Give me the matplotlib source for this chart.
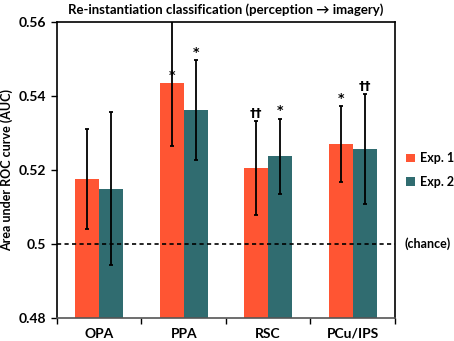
import numpy as np
import matplotlib
matplotlib.use("Agg")
import matplotlib.pyplot as plt

plt.rcParams["font.family"] = ["Lato", "DejaVu Sans"]
plt.rcParams["font.weight"] = "bold"
plt.rcParams["axes.titleweight"] = "bold"
plt.rcParams["axes.labelweight"] = "bold"

regions = ["OPA", "PPA", "RSC", "PCu/IPS"]
exp1 = [0.5175, 0.5435, 0.5205, 0.527]
exp2 = [0.515, 0.5363, 0.5237, 0.5257]
err1 = [0.0135, 0.0170, 0.0127, 0.0103]
err2 = [0.0207, 0.0135, 0.0102, 0.0148]
sig1 = ["", "*", "††", "*"]
sig2 = ["", "*", "*", "††"]

col1 = "#FF5533"
col2 = "#306C70"
ymax = 0.56

fig = plt.figure(figsize=(4.54, 3.41), dpi=100)
ax = fig.add_axes([0.1256, 0.0674, 0.744, 0.868])

x = np.arange(len(regions))
w = 0.284
ax.bar(x - w / 2, exp1, w, color=col1, label="Exp. 1", zorder=2)
ax.bar(x + w / 2, exp2, w, color=col2, label="Exp. 2", zorder=2)
ax.errorbar(x - w / 2, exp1, yerr=err1, fmt="none", ecolor="black",
            elinewidth=1.3, capsize=1.5, capthick=1.3, zorder=3)
ax.errorbar(x + w / 2, exp2, yerr=err2, fmt="none", ecolor="black",
            elinewidth=1.3, capsize=1.5, capthick=1.3, zorder=3)


def mark(xp, val, err, s):
    if not s:
        return
    top = val + err
    if top > ymax:
        top = val  # error bar runs off the axis, so put the mark on the bar
    ax.text(xp, top + 0.0003, s, ha="center", va="bottom", fontsize=9,
            fontweight="bold", family="DejaVu Sans")


for i in range(len(regions)):
    mark(x[i] - w / 2, exp1[i], err1[i], sig1[i])
    mark(x[i] + w / 2, exp2[i], err2[i], sig2[i])

ax.axhline(0.5, color="black", linestyle=(0, (2.5, 2)), linewidth=1.2, zorder=4)
ax.text(1.028, 0.5, "(chance)", transform=ax.get_yaxis_transform(),
        ha="left", va="center", fontsize=9, fontweight="bold")

ax.set_ylim(0.48, ymax)
ax.set_xlim(-0.5, 3.5)
ax.set_yticks([0.48, 0.5, 0.52, 0.54, 0.56])
ax.set_yticklabels(["0.48", "0.5", "0.52", "0.54", "0.56"], fontweight="bold")
ax.set_xticks(x)
ax.set_xticklabels(regions, fontweight="bold")
ax.set_xticks(np.arange(-0.5, 4.0, 1.0), minor=True)
ax.tick_params(axis="x", which="major", length=0, pad=7, labelsize=10)
ax.tick_params(axis="x", which="minor", length=4, width=1)
ax.tick_params(axis="y", length=4, width=1, labelsize=10, pad=4)
for s in ax.spines.values():
    s.set_linewidth(1.2)
ax.spines["bottom"].set_color("#555555")

ax.set_ylabel("Area under ROC curve (AUC)", fontsize=9, fontweight="bold",
              labelpad=4)
ax.set_title("Re-instantiation classification (perception \u2192 imagery)",
             fontsize=9.5, fontweight="bold", pad=6)

leg = ax.legend(loc="center left", bbox_to_anchor=(1.0, 0.5), frameon=False,
                fontsize=9, handlelength=0.7, handleheight=0.7,
                handletextpad=0.4, labelspacing=0.9)
for t in leg.get_texts():
    t.set_fontweight("bold")

fig.savefig("out.png", dpi=100)
